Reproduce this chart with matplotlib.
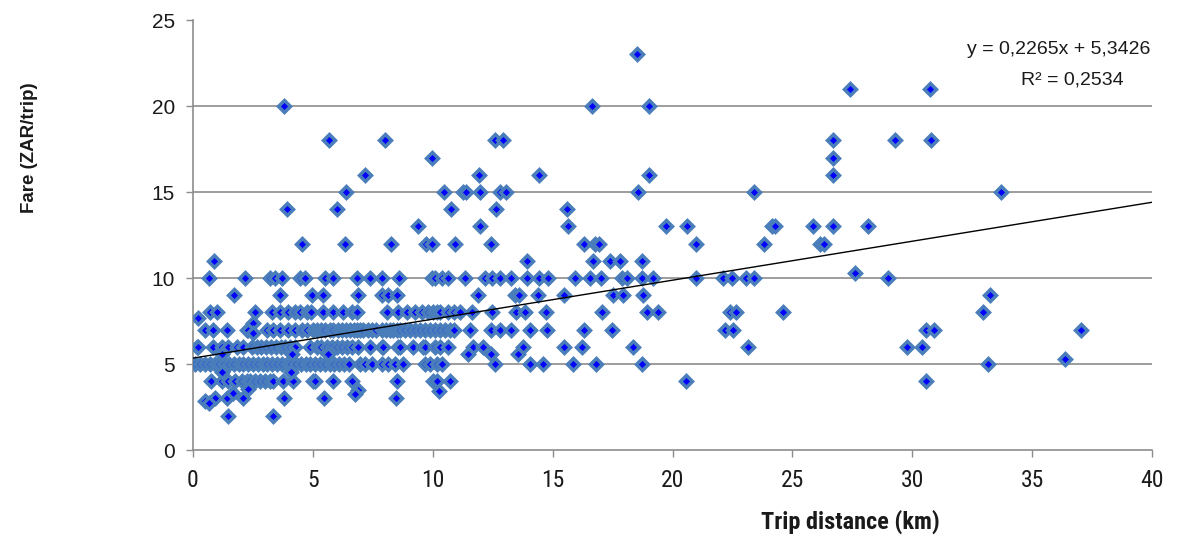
import numpy as np
import matplotlib
matplotlib.use("Agg")
import matplotlib.pyplot as plt
from matplotlib import font_manager

# ---------------- data (trip distance in km, grouped by fare in ZAR) ----------------
fare23 = [18.5]
fare21 = [27.4, 30.75]
fare20 = [3.81, 16.63, 19.0]
fare18 = [5.67, 8.0, 12.6, 12.94, 26.71, 29.28, 30.77]
fare17 = [9.98, 26.71]
fare16 = [7.17, 11.93, 14.45, 19.0, 26.71]
fare15 = [6.38, 10.48, 11.25, 11.4, 11.97, 12.8, 13.04, 18.55, 23.4, 33.7]
fare14 = [3.93, 5.99, 10.75, 12.63, 15.59]
fare13 = [9.37, 11.98, 15.63, 19.73, 20.62, 24.14, 24.28, 25.85, 26.71, 28.14]
fare12 = [4.56, 6.34, 8.26, 9.7, 9.98, 10.93, 12.43, 16.32, 16.77, 16.95, 20.97,
          23.82, 26.15, 26.33]
fare11 = [0.89, 13.92, 16.7, 17.39, 17.8, 18.74]
fare10 = [0.67, 2.17, 3.21, 3.42, 3.7, 4.46, 4.67, 5.51, 5.85, 6.83, 7.38, 7.87, 8.6,
          9.95, 10.1, 10.37, 10.65, 11.35, 12.18, 12.46, 12.8, 13.26, 13.92, 14.45,
          14.82, 15.93, 16.56, 17.02, 17.88, 18.09, 18.74, 19.17, 20.97, 22.09, 22.48,
          23.05, 23.4, 29.0]
fare9 = [1.72, 3.63, 4.98, 5.42, 6.87, 7.87, 8.15, 8.52, 11.9, 13.43, 13.6, 14.4,
         15.47, 17.5, 17.92, 18.78, 33.24]
fare8 = [0.71, 0.99, 2.59, 3.28, 3.63, 3.97, 4.25, 4.46, 4.74, 4.92, 5.44, 5.85, 6.27,
         6.62, 6.83, 8.08, 8.56, 8.91, 9.26, 9.54, 9.82, 10.02, 10.16, 10.3, 10.65, 10.9,
         11.14, 11.62, 12.46, 13.47, 13.85, 14.71, 17.07, 18.92, 19.38, 22.4, 22.65,
         24.62, 32.94]
fare7 = [0.5, 0.85, 1.4, 2.24, 2.31, 3.07, 3.35, 3.63, 3.98, 4.25, 4.53, 4.74, 5.02,
         5.16, 5.35, 5.51, 5.7, 5.85, 6.05, 6.2, 6.4, 6.55, 6.7, 6.83, 6.97, 7.1, 7.3,
         7.45, 7.65, 7.87, 8.05, 8.22, 8.35, 8.5, 8.65, 8.84, 9.05, 9.26, 9.45, 9.68,
         9.9, 10.09, 10.3, 10.5, 10.7, 10.9, 11.55, 12.43, 12.8, 13.26, 14.06, 14.75,
         16.32, 17.49, 22.19, 22.54, 30.57, 30.9, 37.04]
fare6 = [0.15, 0.22, 0.85, 1.2, 1.47, 1.82, 2.1, 2.45, 2.65, 2.85, 3.05, 3.25, 3.45,
         3.65, 3.85, 4.05, 4.25, 4.88, 5.16, 5.35, 5.58, 5.8, 5.99, 6.2, 6.41, 6.62,
         6.9, 7.38, 7.87, 7.94, 8.56, 8.63, 9.19, 9.61, 9.68, 10.09, 10.3, 10.65, 11.67,
         12.08, 13.78, 15.47, 16.21, 18.34, 23.16, 29.8, 30.39]
fare5 = [0.08, 0.29, 0.5, 0.7, 0.9, 1.1, 1.3, 1.5, 1.7, 1.9, 2.1, 2.3, 2.5, 2.7, 2.9,
         3.1, 3.3, 3.5, 3.7, 3.9, 4.1, 4.3, 4.5, 4.7, 4.9, 5.1, 5.3, 5.5, 5.7, 5.9, 6.1,
         6.3, 6.5, 6.97, 7.17, 7.45, 7.87, 8.15, 8.43, 8.77, 9.68, 9.9, 10.16, 10.37,
         12.6, 14.06, 14.61, 15.84, 16.81, 18.74, 33.17]
fare4 = [0.75, 1.2, 1.47, 1.75, 2.03, 2.24, 2.38, 2.59, 2.79, 3.0, 3.21, 3.35, 3.77,
         4.18, 5.02, 5.09, 5.85, 6.62, 8.5, 10.02, 10.16, 10.72, 20.56, 30.57]
fare3 = [0.92, 1.4, 2.1, 3.81, 5.46, 8.47]
fare2 = [1.47, 3.32]

# points with non-integer fares
other_distance = [0.2, 2.52, 2.52, 1.2, 4.12, 5.65, 11.46, 12.43, 13.57, 1.2, 4.09,
                  2.31, 6.9, 10.27, 1.68, 6.76, 0.5, 0.65, 27.6, 36.37]
other_fare = [7.7, 7.36, 6.78, 5.56, 5.56, 5.56, 5.56, 5.56, 5.56, 4.55, 4.55,
              3.53, 3.49, 3.45, 3.3, 3.24, 2.85, 2.75, 10.3, 5.3]

# linear trend (as reported on the chart)
trend_slope = 0.2265
trend_intercept = 5.3426
trend_r2 = 0.2534

x_ticks = [0, 5, 10, 15, 20, 25, 30, 35, 40]
y_ticks = [0, 5, 10, 15, 20, 25]

groups = {23: fare23, 21: fare21, 20: fare20, 18: fare18, 17: fare17, 16: fare16,
          15: fare15, 14: fare14, 13: fare13, 12: fare12, 11: fare11, 10: fare10,
          9: fare9, 8: fare8, 7: fare7, 6: fare6, 5: fare5, 4: fare4, 3: fare3, 2: fare2}
xs, ys = [], []
for f, ds in groups.items():
    xs += ds
    ys += [f] * len(ds)
xs += other_distance
ys += other_fare

# ---------------- fonts ----------------
names = {f.name for f in font_manager.fontManager.ttflist}
narrow = "Liberation Sans"
for cand in ["Liberation Sans Narrow", "DejaVu Sans Condensed", "Roboto Condensed",
             "Open Sans Condensed"]:
    if cand in names:
        narrow = cand
        break
narrow_is_real = narrow != "Liberation Sans"
plt.rcParams["font.family"] = ["Liberation Sans", "DejaVu Sans"]

fig = plt.figure(figsize=(11.87, 5.42), dpi=100)
ax = fig.add_axes([193 / 1187, 1 - 450 / 542, (1152 - 193) / 1187, (450 - 20) / 542])

grid_c = "#8c8c8c"
for yv in y_ticks[1:-1]:
    ax.plot([0, 40], [yv, yv], color=grid_c, lw=1.2, zorder=1)

ax.plot(xs, ys, linestyle="none", marker="D", markersize=6.3, markerfacecolor="#0000ff",
        markeredgecolor="#4a7ebb", markeredgewidth=2.5, zorder=3)

tx = np.array([0, 40])
ax.plot(tx, trend_slope * tx + trend_intercept, color="black", lw=1.0, zorder=4)

ax.set_xlim(0, 40)
ax.set_ylim(0, 25)
ax.set_xticks(x_ticks)
ax.set_yticks(y_ticks)
ax.set_xticklabels([str(v) for v in x_ticks], fontfamily=narrow,
                   fontsize=17 if narrow_is_real else 15)
ax.set_yticklabels([str(v) for v in y_ticks], fontsize=15)
for s in ["top", "right"]:
    ax.spines[s].set_visible(False)
for s in ["left", "bottom"]:
    ax.spines[s].set_color(grid_c)
    ax.spines[s].set_linewidth(1.2)
ax.tick_params(axis="both", direction="out", length=5, width=1.0, color=grid_c,
               labelcolor="#1a1a1a")
ax.tick_params(axis="y", pad=8)
ax.tick_params(axis="x", pad=9)

fig.text(30 / 1187, 1 - 148 / 542, "Fare (ZAR/trip)", rotation=90, ha="center",
         va="center", fontsize=13.5, fontweight="bold", color="#1a1a1a")
fig.text(850 / 1187, 1 - 522 / 542, "Trip distance (km)", ha="center", va="center",
         fontsize=17.5 if narrow_is_real else 15, fontweight="bold", fontfamily=narrow,
         color="#1a1a1a")

eq = f"y = {trend_slope:.4f}x + {trend_intercept:.4f}".replace(".", ",")
r2 = f"R² = {trend_r2:.4f}".replace(".", ",")
fig.text(1150 / 1187, 1 - 50 / 542, eq, ha="right", va="center", fontsize=14,
         color="#1a1a1a")
fig.text(1072 / 1187, 1 - 80 / 542, r2, ha="center", va="center", fontsize=14,
         color="#1a1a1a")

fig.savefig("out.png", dpi=100)
